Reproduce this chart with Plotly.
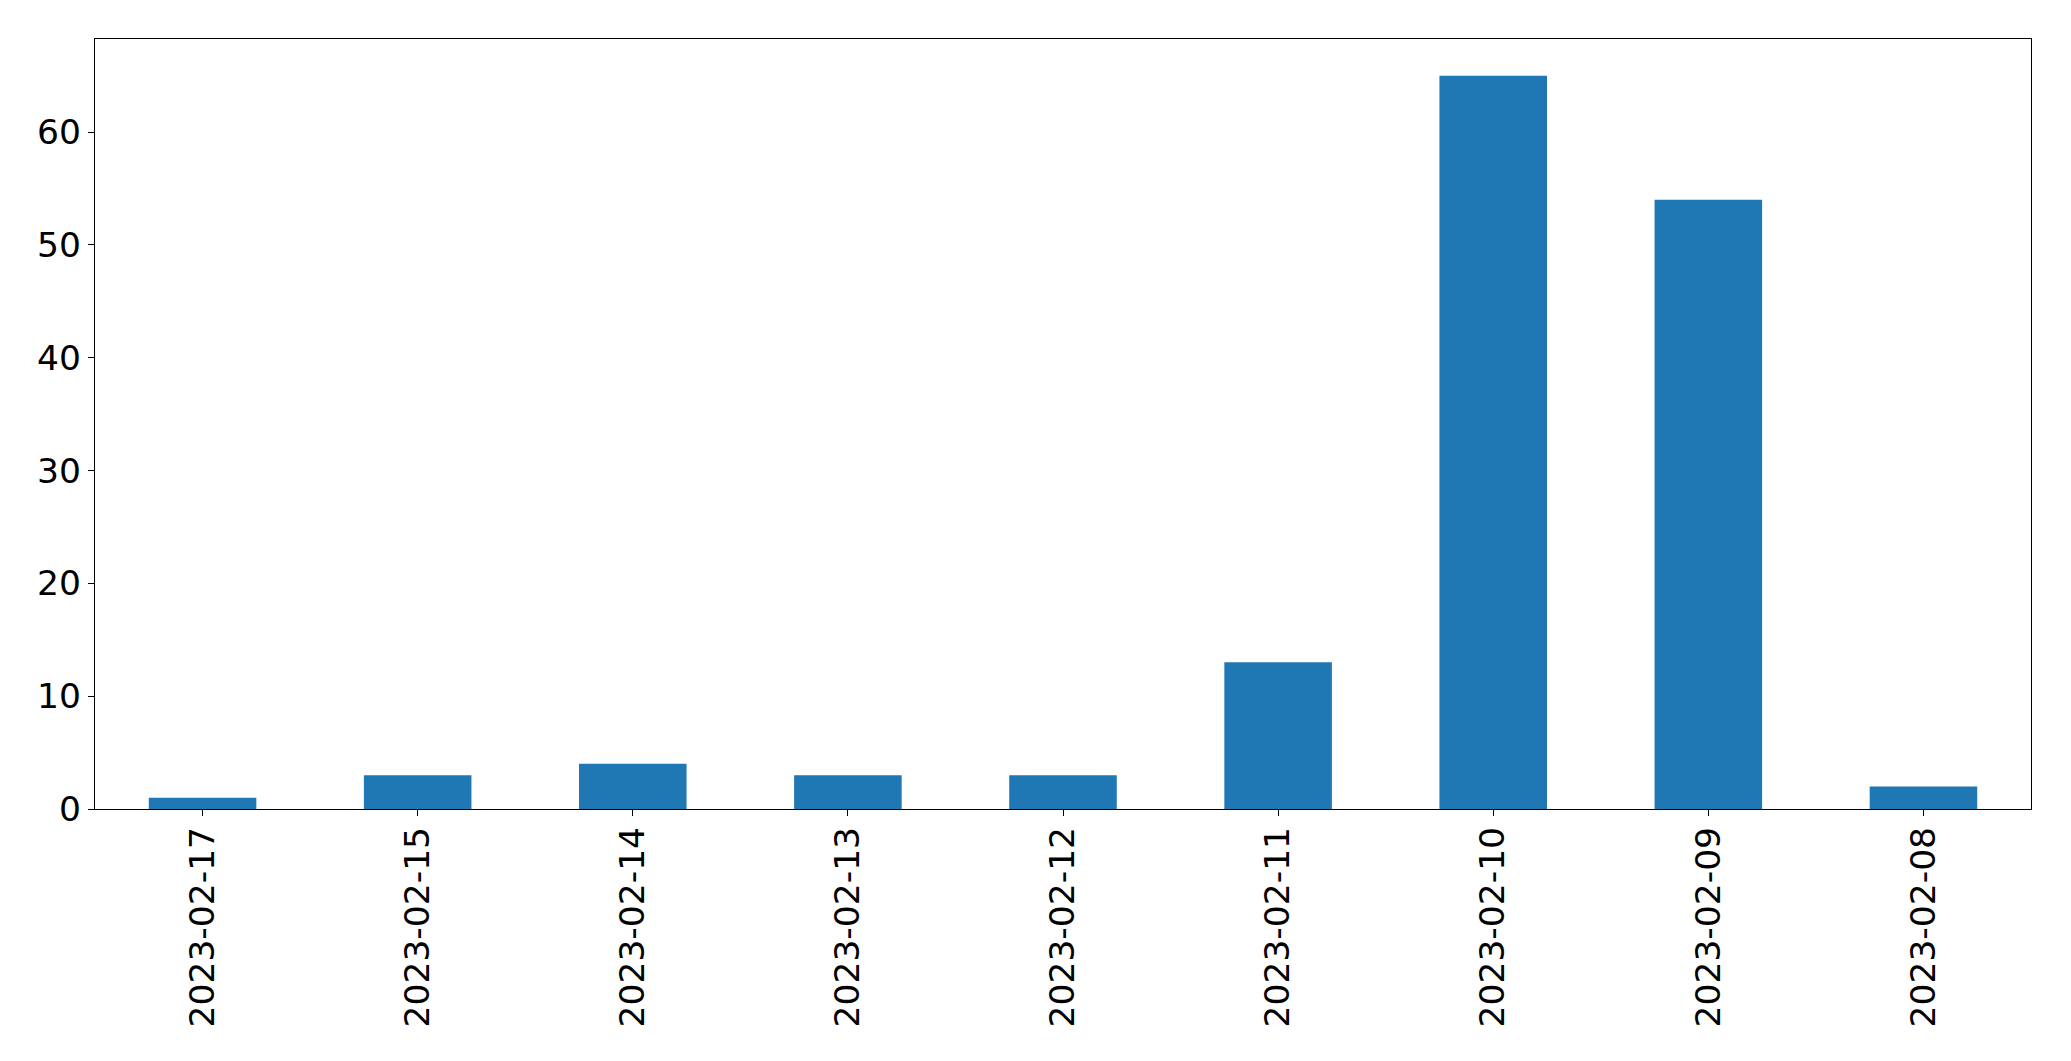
import plotly.graph_objects as go

dates = ["2023-02-17", "2023-02-15", "2023-02-14", "2023-02-13", "2023-02-12",
         "2023-02-11", "2023-02-10", "2023-02-09", "2023-02-08"]
counts = [1, 3, 4, 3, 3, 13, 65, 54, 2]
y_ticks = [0, 10, 20, 30, 40, 50, 60]

fig = go.Figure(go.Bar(x=dates, y=counts, width=0.5, marker_color="#1f77b4",
                       marker_line_width=0))

font = dict(family="DejaVu Sans", size=34.5, color="black")
fig.update_layout(
    template="none",
    width=2071, height=1061,
    margin=dict(l=95, r=40, t=39, b=252, pad=0),
    paper_bgcolor="white", plot_bgcolor="white",
    font=font, showlegend=False,
    xaxis=dict(type="category", range=[-0.5, 8.5], tickangle=-90, automargin=False,
               showline=True, linecolor="black", linewidth=1.3, mirror=True,
               ticks="outside", ticklen=6, tickwidth=1.3, tickcolor="black",
               showgrid=False, tickfont=font, ticklabelstandoff=-3),
    yaxis=dict(range=[0, 68.25], tickvals=y_ticks, automargin=False,
               showline=True, linecolor="black", linewidth=1.3, mirror=True,
               ticks="outside", ticklen=6, tickwidth=1.3, tickcolor="black",
               showgrid=False, zeroline=False, tickfont=font, ticklabelstandoff=0),
)
fig.write_html("out.html", config={"displayModeBar": False},
               post_script="document.body.style.margin='0';")
